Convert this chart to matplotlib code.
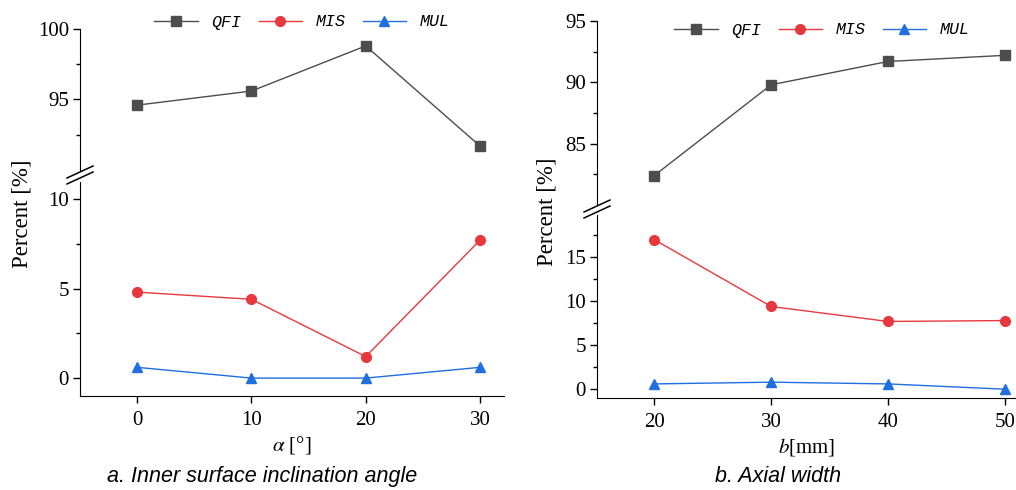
import numpy as np
import matplotlib
matplotlib.use("Agg")
import matplotlib.pyplot as plt
from matplotlib.lines import Line2D

# data
angle = [0, 10, 20, 30]
qfi_a = [94.6, 95.6, 98.8, 91.7]
mis_a = [4.8, 4.4, 1.2, 7.7]
mul_a = [0.6, 0.0, 0.0, 0.6]

width = [20, 30, 40, 50]
qfi_b = [82.4, 89.8, 91.7, 92.2]
mis_b = [17.0, 9.4, 7.7, 7.8]
mul_b = [0.6, 0.8, 0.6, 0.0]

names = ["QFI", "MIS", "MUL"]
colors = ["#4d4d4d", "#e8383d", "#1f6fe0"]
markers = ["s", "o", "^"]

plt.rcParams["font.family"] = ["Liberation Serif", "DejaVu Serif"]
plt.rcParams["font.size"] = 15
plt.rcParams["mathtext.fontset"] = "stix"

W, H = 1016, 490
fig = plt.figure(figsize=(W / 100, H / 100), dpi=100)


def style(ax, bottom):
    ax.spines["top"].set_visible(False)
    ax.spines["right"].set_visible(False)
    if not bottom:
        ax.spines["bottom"].set_visible(False)
        ax.tick_params(axis="x", which="both", bottom=False, labelbottom=False)
    ax.tick_params(axis="both", which="major", direction="out", length=5, width=1,
                   labelsize=15, pad=3)
    ax.tick_params(axis="x", which="major", pad=6)
    ax.tick_params(axis="y", which="minor", direction="out", length=3, width=1)
    ax.patch.set_alpha(0)


def break_marks(xpix, ypix):
    # two parallel slanted strokes across the left spine (figure pixels)
    for off in (-3, 3):
        xs = [(xpix - 13) / W, (xpix + 13) / W]
        ys = [1 - (ypix + off + 6) / H, 1 - (ypix + off - 6) / H]
        fig.add_artist(Line2D(xs, ys, color="black", lw=1.1))


def panel(rect_top, rect_bot, x, series_top, series_bot, xlim, ylim_top, ylim_bot,
          yt_top, yt_bot, ymin_top, ymin_bot, xlabel, caption, cap_x, leg_xy, brk):
    ax_t = fig.add_axes(rect_top)
    ax_b = fig.add_axes(rect_bot)
    for ax, data in ((ax_t, series_top), (ax_b, series_bot)):
        for i, vals in enumerate(data):
            if vals is None:
                continue
            ax.plot(x, vals, color=colors[i], marker=markers[i], markersize=7,
                    lw=1, label=names[i])
    lines = [Line2D([], [], color=colors[i], marker=markers[i], markersize=7, lw=1)
             for i in range(3)]
    ax_t.set_xlim(*xlim)
    ax_b.set_xlim(*xlim)
    ax_t.set_ylim(*ylim_top)
    ax_b.set_ylim(*ylim_bot)
    ax_t.set_yticks(yt_top)
    ax_t.set_yticks(ymin_top, minor=True)
    ax_b.set_yticks(yt_bot)
    ax_b.set_yticks(ymin_bot, minor=True)
    ax_b.set_xticks(x)
    style(ax_t, False)
    style(ax_b, True)
    break_marks(*brk)
    ax_b.set_xlabel(xlabel, fontsize=15, labelpad=3)
    fig.legend(lines, names, loc="center", bbox_to_anchor=leg_xy, ncol=3,
               frameon=False, handlelength=2.6, columnspacing=1.05,
               prop={"family": "Liberation Mono", "style": "italic", "size": 12})
    fig.text(cap_x, 1 - 476 / H, caption, ha="center", va="center", fontsize=15.5,
             style="italic", family="Liberation Sans")
    return ax_t, ax_b


panel([80 / W, 1 - 170 / H, 424 / W, 141 / H],
      [80 / W, 1 - 396 / H, 424 / W, 214 / H],
      angle, [qfi_a, None, None], [None, mis_a, mul_a],
      (-5, 32.1), (90, 100), (-1, 10.95),
      [95, 100], [0, 5, 10], [92.5, 97.5], [2.5, 7.5],
      r"$\alpha$ [°]", "a. Inner surface inclination angle", 262 / W,
      (302 / W, 1 - 22 / H), (80, 175))

panel([597 / W, 1 - 205 / H, 419 / W, 184 / H],
      [597 / W, 1 - 398 / H, 419 / W, 183 / H],
      width, [qfi_b, None, None], [None, mis_b, mul_b],
      (15.1, 50.95), (80, 95), (-1, 19.8),
      [85, 90, 95], [0, 5, 10, 15], [82.5, 87.5, 92.5], [2.5, 7.5, 12.5, 17.5],
      r"$b$[mm]", "b. Axial width", 778 / W,
      (822 / W, 1 - 30 / H), (597, 209))

fig.text(22 / W, 1 - 214 / H, "Percent [%]", rotation=90, ha="center", va="center", fontsize=16.5)
fig.text(547 / W, 1 - 212 / H, "Percent [%]", rotation=90, ha="center", va="center", fontsize=16.5)

fig.savefig("out.png", dpi=100)
